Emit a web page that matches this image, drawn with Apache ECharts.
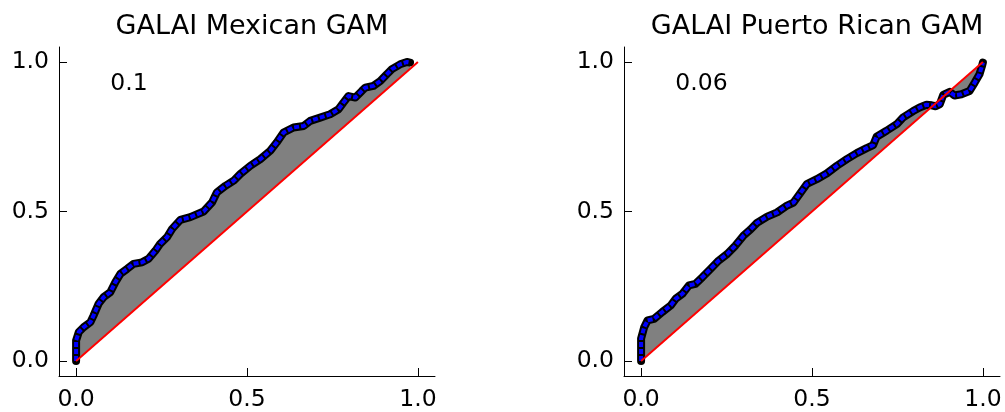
<!DOCTYPE html>
<html>
<head>
<meta charset="utf-8">
<script src="https://cdn.jsdelivr.net/npm/echarts@6/dist/echarts.min.js"></script>
<style>html,body{margin:0;padding:0;background:#fff}#c{width:1005px;height:412px}</style>
</head>
<body>
<div id="c"></div>
<script>
const titles = ['GALAI Mexican GAM', 'GALAI Puerto Rican GAM'];
const notes = ['0.1', '0.06'];
const tickValues = [0, 0.5, 1.0];

const mexX = [0, 0, 0, 0.008, 0.022, 0.042, 0.051, 0.066, 0.081, 0.100, 0.115, 0.130, 0.149, 0.168, 0.193, 0.212, 0.232, 0.246, 0.266, 0.281, 0.305, 0.334, 0.373, 0.398, 0.412, 0.437, 0.461, 0.480, 0.510, 0.539, 0.568, 0.587, 0.607, 0.636, 0.666, 0.685, 0.714, 0.743, 0.768, 0.782, 0.797, 0.817, 0.836, 0.846, 0.870, 0.890, 0.909, 0.924, 0.948, 0.968, 0.977];
const mexY = [0, 0.036, 0.069, 0.097, 0.113, 0.130, 0.152, 0.192, 0.214, 0.230, 0.264, 0.292, 0.308, 0.325, 0.330, 0.342, 0.369, 0.392, 0.414, 0.442, 0.472, 0.481, 0.500, 0.531, 0.564, 0.586, 0.603, 0.625, 0.653, 0.675, 0.703, 0.731, 0.764, 0.781, 0.786, 0.803, 0.814, 0.825, 0.842, 0.864, 0.886, 0.881, 0.903, 0.914, 0.920, 0.936, 0.959, 0.976, 0.992, 1.0, 0.998];

const prX = [0, 0, 0, 0.009, 0.019, 0.038, 0.062, 0.087, 0.101, 0.121, 0.140, 0.159, 0.179, 0.203, 0.227, 0.252, 0.276, 0.300, 0.320, 0.339, 0.369, 0.398, 0.427, 0.446, 0.466, 0.485, 0.514, 0.543, 0.573, 0.602, 0.631, 0.660, 0.679, 0.689, 0.718, 0.748, 0.767, 0.796, 0.815, 0.835, 0.850, 0.862, 0.874, 0.884, 0.903, 0.917, 0.937, 0.961, 0.976, 0.990, 0.997, 1.0];
const prY = [0, 0.036, 0.075, 0.113, 0.136, 0.141, 0.164, 0.186, 0.208, 0.225, 0.253, 0.258, 0.280, 0.308, 0.336, 0.358, 0.386, 0.420, 0.440, 0.462, 0.483, 0.497, 0.520, 0.530, 0.562, 0.592, 0.608, 0.627, 0.653, 0.675, 0.695, 0.712, 0.722, 0.750, 0.770, 0.792, 0.815, 0.836, 0.848, 0.857, 0.855, 0.852, 0.859, 0.890, 0.900, 0.888, 0.892, 0.903, 0.931, 0.959, 0.985, 0.998];

const diagonal = [[0, 0], [1, 1]];
const notePos = [0.1, 0.9];

const FONT = 'DejaVu Sans';
const grids = [
  {left: 59, top: 47, width: 376, height: 329},
  {left: 624, top: 47, width: 376, height: 329}
];

function axis(i, margin) {
  return {
    type: 'value', gridIndex: i, min: -0.05, max: 1.05,
    splitLine: {show: false},
    axisLine: {show: true, onZero: false, lineStyle: {color: '#000', width: 1}},
    axisTick: {show: true, inside: true, length: 8, customValues: tickValues, lineStyle: {color: '#000', width: 1}},
    axisLabel: {show: true, customValues: tickValues, formatter: v => v.toFixed(1), color: '#000', fontFamily: FONT, fontSize: 23.5, margin: margin}
  };
}

const datasets = [[mexX, mexY], [prX, prY]];
const series = [];
datasets.forEach(([xs, ys], i) => {
  series.push({
    type: 'custom', xAxisIndex: i, yAxisIndex: i, silent: true,
    data: [[0, 0]],
    renderItem: (params, api) => {
      const pts = [];
      xs.forEach((x, k) => pts.push(api.coord([x, ys[k]])));
      for (let k = xs.length - 1; k >= 0; k--) pts.push(api.coord([xs[k], xs[k]]));
      return {type: 'polygon', shape: {points: pts}, style: {fill: '#808080', stroke: null}};
    }
  });
  series.push({
    type: 'line', xAxisIndex: i, yAxisIndex: i,
    data: xs.map((x, k) => [x, ys[k]]), symbol: 'none',
    lineStyle: {color: '#000', width: 8, cap: 'round', join: 'round'}
  });
  series.push({
    type: 'line', xAxisIndex: i, yAxisIndex: i,
    data: xs.map((x, k) => [x, ys[k]]), symbol: 'none',
    lineStyle: {color: '#0000ff', width: 4, type: [5, 2], join: 'round'}
  });
  series.push({
    type: 'line', xAxisIndex: i, yAxisIndex: i, data: diagonal, symbol: 'none',
    lineStyle: {color: '#ff0000', width: 2}
  });
  series.push({
    type: 'custom', xAxisIndex: i, yAxisIndex: i, silent: true,
    data: [notePos],
    renderItem: (params, api) => {
      const p = api.coord([api.value(0), api.value(1)]);
      return {type: 'text', x: p[0], y: p[1] + 4,
        style: {text: notes[i], fill: '#000', font: '23.5px "DejaVu Sans"', textAlign: 'left', textVerticalAlign: 'bottom', verticalAlign: 'bottom'}};
    }
  });
});

const chart = echarts.init(document.getElementById('c'), null, {renderer: 'canvas'});
chart.setOption({
  animation: false,
  backgroundColor: '#fff',
  title: titles.map((t, i) => ({
    text: t, left: grids[i].left + grids[i].width / 2, top: 8, textAlign: 'center',
    textStyle: {fontFamily: FONT, fontSize: 27, fontWeight: 'normal', color: '#000'}
  })),
  grid: grids,
  xAxis: [axis(0, 12), axis(1, 12)],
  yAxis: [axis(0, 10), axis(1, 10)],
  series: series
});
</script>
</body>
</html>
